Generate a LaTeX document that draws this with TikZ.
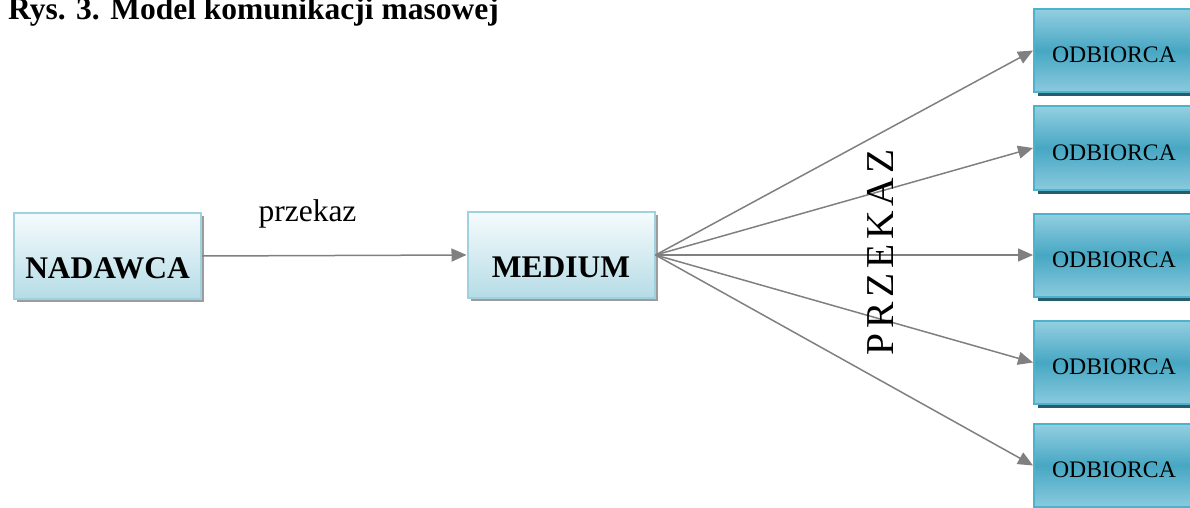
\documentclass[tikz,border=0pt]{standalone}
\usepackage{fontspec}
\setmainfont{Liberation Serif}
\usetikzlibrary{arrows.meta,shadows}

% colours of the boxes and arrows
\definecolor{nadtop}{HTML}{F6FBFD}
\definecolor{nadbot}{HTML}{B5DCE6}
\definecolor{nadedge}{HTML}{9FD2DE}
\definecolor{shadowgray}{HTML}{9C9C9C}
\definecolor{odbtop}{HTML}{93CFE1}
\definecolor{odbmid}{HTML}{47A7C3}
\definecolor{odbbot}{HTML}{8ACADE}
\definecolor{odbedge}{HTML}{4DB2CB}
\definecolor{shadowteal}{HTML}{245E6C}
\definecolor{arrowgray}{HTML}{808080}

\begin{document}
\begin{tikzpicture}[x=1pt, y=-1pt,
    lightbox/.style={draw=nadedge, line width=2pt, top color=nadtop, bottom color=nadbot,
        minimum width=187pt, minimum height=86pt, inner sep=0pt,
        drop shadow={shadow xshift=3pt, shadow yshift=-3pt, fill=shadowgray, opacity=1}},
    tealbox/.style={draw=odbedge, line width=2pt, top color=odbtop, bottom color=odbbot,
        middle color=odbmid, minimum width=160pt, minimum height=83pt, inner sep=0pt,
        drop shadow={shadow xshift=4pt, shadow yshift=-4pt, fill=shadowteal, opacity=1}},
    boldlabel/.style={font=\fontsize{31.5}{36}\selectfont\bfseries},
    feed/.style={draw=arrowgray, line width=1.5pt, -{Triangle[length=15pt, width=13pt]}}
]

    \useasboundingbox (0,0) rectangle (1190,508);

    % ==========================================
    % Caption
    % ==========================================
    \node[boldlabel, anchor=base west, inner sep=0pt] (caption) at (8,20)
        {Rys. 3. Model komunikacji masowej};

    % ==========================================
    % Sender and medium
    % ==========================================
    \node[lightbox] (nad) at (107.5,256) {};
    \node[boldlabel] (nadtxt) at ([yshift=-12pt]nad.center) {NADAWCA};

    \node[lightbox] (med) at (561,255) {};
    \node[boldlabel] (medtxt) at ([yshift=-12pt]med.center) {MEDIUM};

    \draw[feed] (nad.east) -- (med.west);
    \node[font=\fontsize{31.5}{36}\selectfont, anchor=base] (przekaz) at (307.5,221) {przekaz};

    % ==========================================
    % Receivers, one arrow each
    % ==========================================
    \foreach \i/\y in {1/50.5, 2/148, 3/255, 4/362.5, 5/465.5} {
        \node[tealbox] (odb\i) at (1114,\y) {};
        \node[font=\fontsize{23.7}{28}\selectfont] (odbtxt\i) at ([yshift=-4.5pt]odb\i.center) {ODBIORCA};
        \draw[feed] (med.east) -- (odb\i.west);
    }

    % Rotated label over the fan of arrows
    \node[rotate=90, anchor=base, inner sep=0pt,
          font=\fontsize{39.5}{44}\selectfont\addfontfeature{LetterSpace=12}] (fan) at (893,252) {PRZEKAZ};

\end{tikzpicture}
\end{document}
